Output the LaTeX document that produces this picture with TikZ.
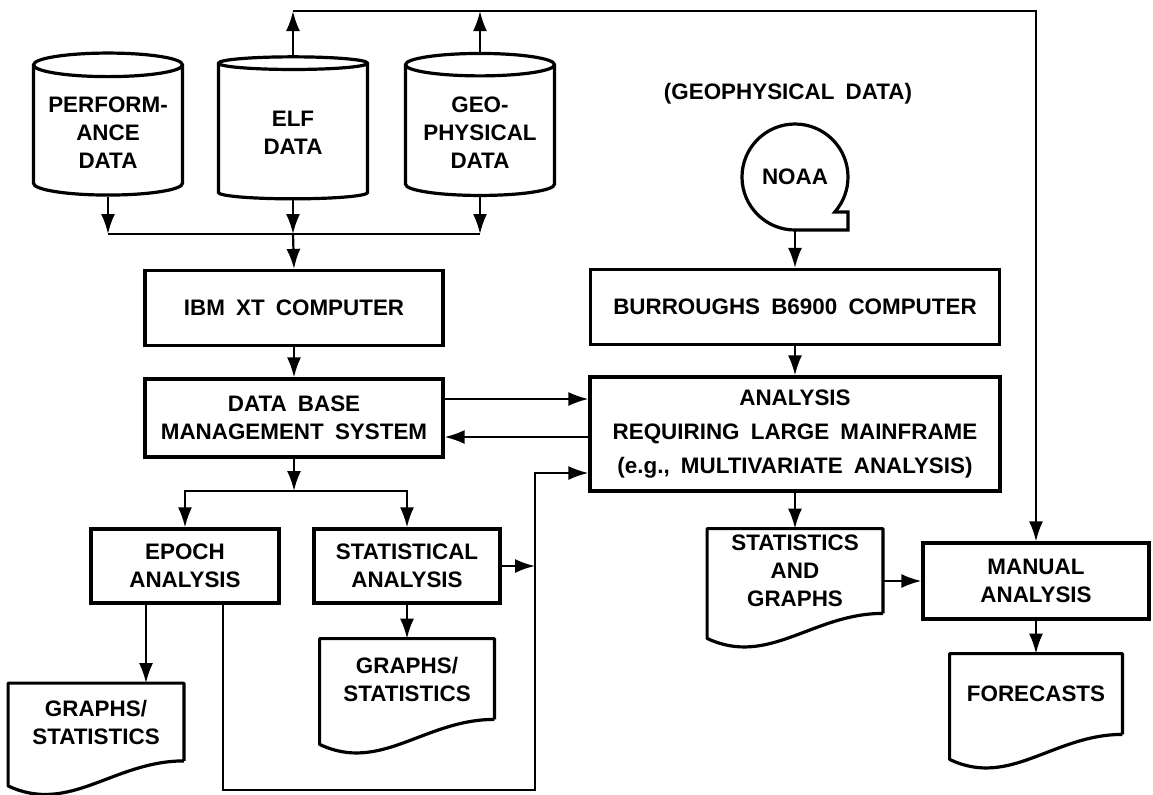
\documentclass[tikz,border=0pt]{standalone}
\usepackage{fontspec}
\setmainfont{Liberation Sans}[WordSpace=1.8]
\usetikzlibrary{calc,shapes,arrows,arrows.meta}

\newcommand{\docshape}[1]{%
  \path[docline] (#1.south east) -- (#1.north east) -- (#1.north west) -- ([yshift=-12.5pt]#1.south west)
    .. controls ($(#1.south west)!0.35!(#1.south east)+(0pt,-27pt)$) and ($(#1.south west)!0.6!(#1.south east)$) .. (#1.south east);}

\begin{document}
\begin{tikzpicture}[
  x=0.5pt,
  y=-0.5pt,
  font=\bfseries\fontsize{11.2}{14}\selectfont
]

  \tikzstyle{procnode}=[draw,rectangle,line width=1.6pt,align=center,inner sep=1mm]
  \tikzstyle{datanode}=[draw,cylinder,shape border rotate=90,aspect=0.18,line width=1.6pt,align=center,minimum width=74.5pt,minimum height=71pt,inner sep=1mm]
  \tikzstyle{docnode}=[rectangle,align=center,inner sep=1mm]
  \tikzstyle{docline}=[draw,line width=1.6pt,line join=round]
  \tikzstyle{reelnode}=[circle,minimum size=53pt,inner sep=0pt,outer sep=0pt]
  \tikzstyle{pointer}=[draw,line width=1.1pt,-{Latex[length=10pt,width=7pt]}]
  \tikzstyle{wire}=[draw,line width=1.1pt]

  \useasboundingbox[fill=white] (0,0) rectangle (1153,794);

  % nodes
  \node[datanode] (perf) at (108,133) {PERFORM-\\ANCE\\DATA};
  \node[datanode] (elf)  at (293,133) {ELF\\DATA};
  \node[datanode] (geo)  at (480,133) {GEO-\\PHYSICAL\\DATA};

  \node[procnode,minimum width=149pt,minimum height=37.5pt] (ibm) at (294,308) {IBM XT COMPUTER};
  \node[procnode,minimum width=149pt,minimum height=39pt] (dbms) at (294,418) {DATA BASE\\MANAGEMENT SYSTEM};
  \node[procnode,minimum width=94pt,minimum height=37pt] (epoch) at (185,566) {EPOCH\\ANALYSIS};
  \node[procnode,minimum width=93pt,minimum height=37pt] (stat) at (407,566) {STATISTICAL\\ANALYSIS};

  \node[docnode,minimum width=87.5pt,minimum height=38.5pt] (graphsa) at (96,722) {GRAPHS/\\STATISTICS};
  \node[docnode,minimum width=87pt,minimum height=40pt] (graphsb) at (407,679) {GRAPHS/\\STATISTICS};

  \node (geolab) at (788,94) {(GEOPHYSICAL DATA)};
  \node[reelnode] (noaa) at (795,177) {NOAA};
  \node[procnode,minimum width=204.5pt,minimum height=37.5pt] (burr) at (795,307) {BURROUGHS B6900 COMPUTER};
  \node[procnode,minimum width=205pt,minimum height=57pt] (anal) at (795,434) {ANALYSIS\\[3pt]REQUIRING LARGE MAINFRAME\\[3pt](e.g., MULTIVARIATE ANALYSIS)};
  \node[docnode,minimum width=87.5pt,minimum height=42pt] (statsdoc) at (795,571) {STATISTICS\\AND\\GRAPHS};
  \node[procnode,minimum width=113pt,minimum height=38pt] (manual) at (1036,581) {MANUAL\\ANALYSIS};
  \node[docnode,minimum width=86pt,minimum height=40pt] (fcast) at (1036,694) {FORECASTS};

  \coordinate (top) at (1036,11);
  \coordinate (merge) at (293,234);
  \coordinate (split) at (294,491);
  \coordinate (bus) at (535,473);
  \coordinate (loop) at (535,790);

  % outlines
  \docshape{graphsa}
  \docshape{graphsb}
  \docshape{statsdoc}
  \docshape{fcast}
  \draw[line width=1.6pt] (noaa.south) arc[start angle=270,end angle=-41.3,radius=26.5pt] -| (noaa.east |- noaa.south) -- cycle;

  % pointers
  \draw[pointer] (elf.north) -- (elf.north |- top);
  \draw[pointer] (geo.north) -- (geo.north |- top);
  \draw[pointer] (elf.north |- top) -- (top) -- (manual.north);

  \draw[pointer] (perf.south) -- (perf.south |- merge);
  \draw[pointer] (elf.south) -- (merge);
  \draw[pointer] (geo.south) -- (geo.south |- merge);
  \draw[wire] (perf.south |- merge) -- (geo.south |- merge);
  \draw[pointer] (merge) -- (ibm.north);

  \draw[pointer] (ibm) -- (dbms);
  \draw[pointer] ([yshift=9.5pt]dbms.east) -- ([yshift=9.5pt]dbms.east -| anal.west);
  \draw[pointer] ([yshift=-9.5pt]dbms.east -| anal.west) -- ([yshift=-9.5pt]dbms.east);

  \draw[pointer] (dbms) -- (split);
  \draw[pointer] (split) -| (epoch.north);
  \draw[pointer] (split) -| (stat.north);
  \draw[pointer] (stat.east) -- (stat.east -| bus);
  \draw[pointer] ([xshift=19pt]epoch.south) |- (loop) -- (bus) -- (bus -| anal.west);
  \draw[pointer] ([xshift=-19.5pt]epoch.south) -- ([xshift=-19.5pt]epoch.south |- graphsa.north);
  \draw[pointer] (stat) -- (graphsb);

  \draw[pointer] (noaa.south) -- (burr.north);
  \draw[pointer] (burr) -- (anal);
  \draw[pointer] (anal) -- (statsdoc);
  \draw[pointer] (statsdoc.east |- manual.west) -- (manual.west);
  \draw[pointer] (manual) -- (fcast);

\end{tikzpicture}
\end{document}
